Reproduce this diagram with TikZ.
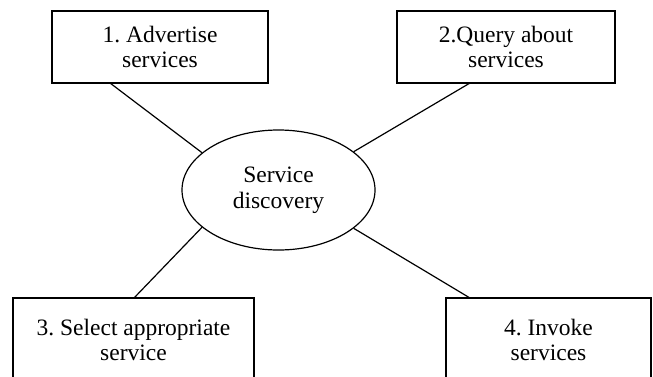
\documentclass[tikz,border=0pt]{standalone}
\usepackage{fontspec}
\setmainfont{Liberation Serif}
\usetikzlibrary{shapes.geometric}
\begin{document}
\begin{tikzpicture}[x=1pt,y=-1pt,
  every node/.style={font=\fontsize{23.5}{25.5}\selectfont\frenchspacing, align=center, inner sep=0pt},
  stepbox/.style={draw, line width=1.2pt, rectangle},
  conn/.style={line width=1.2pt}]
\useasboundingbox (0,0) rectangle (653,376);
\clip (0,0) rectangle (653,376);
\node[stepbox, minimum width=216pt, minimum height=72pt] (b1) at (160,47) {1. Advertise\\services};
\node[stepbox, minimum width=218pt, minimum height=72pt] (b2) at (506,47) {2.Query about\\services};
\node[stepbox, minimum width=241pt, minimum height=84pt] (b3) at (133.5,340) {3. Select appropriate\\service};
\node[stepbox, minimum width=205pt, minimum height=84pt] (b4) at (548.5,340) {4. Invoke\\services};
\node[draw, ellipse, line width=1.2pt, minimum width=193pt, minimum height=120pt] (e) at (278.5,190) {Service\\discovery};
\coordinate (c1) at (110,83);
\coordinate (c2) at (470,83);
\coordinate (c3) at (134,298);
\coordinate (c4) at (470,298);
\draw[conn] (c1) -- (e.154);
\draw[conn] (c2) -- (e.27);
\draw[conn] (c3) -- (e.206);
\draw[conn] (c4) -- (e.333);
\end{tikzpicture}
\end{document}
